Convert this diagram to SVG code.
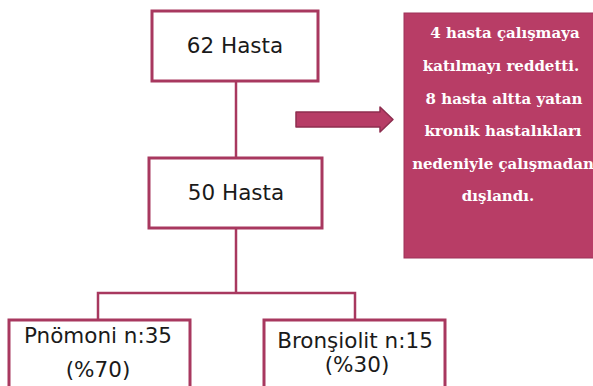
<svg xmlns="http://www.w3.org/2000/svg" width="593" height="386" viewBox="0 0 593 386">
<style>
.box{fill:#ffffff;stroke:#A8385F;stroke-width:3}
.lbl{font-family:"DejaVu Sans","Noto Sans",sans-serif;font-size:21.5px;fill:#1a1a1a;text-anchor:middle}
.conn{fill:none;stroke:#A8385F;stroke-width:2.5}
.note{font-family:"DejaVu Serif","Liberation Serif",serif;font-weight:bold;font-size:15px;fill:#ffffff;text-anchor:middle}
</style>
<rect width="593" height="386" fill="#ffffff"/>
<g id="connectors">
<line class="conn" x1="236" y1="81" x2="236" y2="158"/>
<polyline class="conn" points="236,228 236,293"/>
<polyline class="conn" points="98,320 98,293 355,293 355,320"/>
<polygon points="296,112 380,112 380,107 393,119.5 380,132 380,127 296,127" fill="#B73D66" stroke="#8E2E4F" stroke-width="1.5" stroke-linejoin="round"/>
</g>
<g id="n62">
<rect class="box" x="152" y="11" width="166" height="70"/>
<text class="lbl" x="235" y="53">62 Hasta</text>
</g>
<g id="n50">
<rect class="box" x="149" y="158" width="173" height="70"/>
<text class="lbl" x="236" y="200">50 Hasta</text>
</g>
<g id="note">
<rect x="404" y="13" width="192" height="245" fill="#B83D66" stroke="#9E3358" stroke-width="1"/>
<text class="note" x="505" y="38">4 hasta çalışmaya</text>
<text class="note" x="501" y="71">katılmayı reddetti.</text>
<text class="note" x="504" y="104">8 hasta altta yatan</text>
<text class="note" x="503" y="136">kronik hastalıkları</text>
<text class="note" x="503" y="169">nedeniyle çalışmadan</text>
<text class="note" x="498" y="201">dışlandı.</text>
</g>
<g id="pnomoni">
<rect class="box" x="9" y="320" width="181" height="70"/>
<text class="lbl" x="98" y="343">Pnömoni n:35</text>
<text class="lbl" x="98" y="377">(%70)</text>
</g>
<g id="bronsiolit">
<rect class="box" x="264" y="320" width="181" height="70"/>
<text class="lbl" x="355" y="348">Bronşiolit n:15</text>
<text class="lbl" x="357" y="372">(%30)</text>
</g>
</svg>
